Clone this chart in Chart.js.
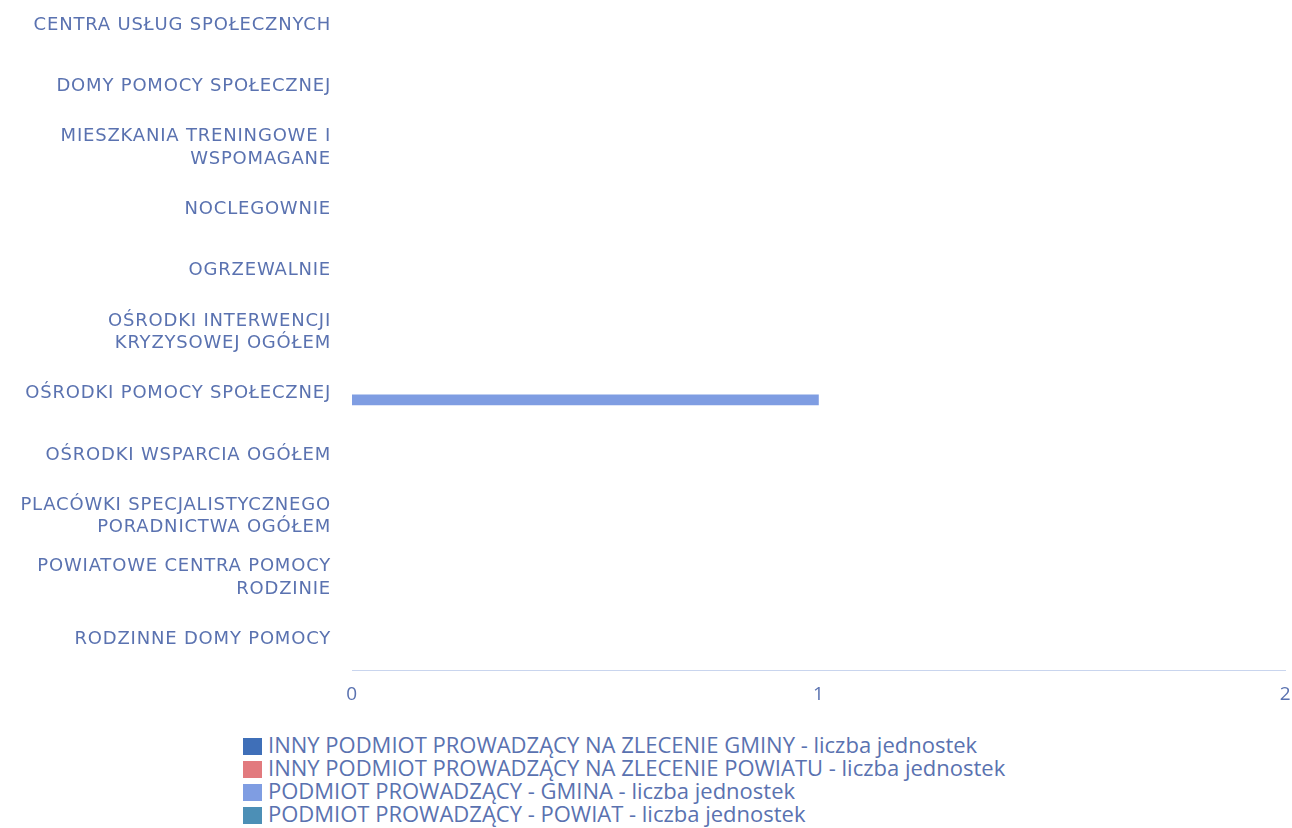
<!DOCTYPE html>
<html>
<head>
<meta charset="utf-8">
<script src="https://cdn.jsdelivr.net/npm/chart.js@4"></script>
<style>
  html, body { margin: 0; padding: 0; background: #fff; overflow: hidden; }
  #wrap { position: absolute; left: 0; top: -38px; width: 1304px; height: 757px; }
  #legend { position: absolute; left: 243px; top: 733px; font-family: "Open Sans", sans-serif; font-size: 22px; color: #5a72b0; }
  #legend div { height: 23px; line-height: 23px; white-space: nowrap; }
  #legend span { display: inline-block; width: 19px; height: 17px; vertical-align: -2px; margin-right: 6px; }
</style>
</head>
<body>
<div id="wrap"><canvas id="canvas"></canvas></div>
<div id="legend"></div>
<script>
var categories = [
  "CENTRA USŁUG SPOŁECZNYCH",
  "DOMY POMOCY SPOŁECZNEJ",
  ["MIESZKANIA TRENINGOWE I", "WSPOMAGANE"],
  "NOCLEGOWNIE",
  "OGRZEWALNIE",
  ["OŚRODKI INTERWENCJI", "KRYZYSOWEJ OGÓŁEM"],
  "OŚRODKI POMOCY SPOŁECZNEJ",
  "OŚRODKI WSPARCIA OGÓŁEM",
  ["PLACÓWKI SPECJALISTYCZNEGO", "PORADNICTWA OGÓŁEM"],
  ["POWIATOWE CENTRA POMOCY", "RODZINIE"],
  "RODZINNE DOMY POMOCY"
];

var seriesNames = [
  "INNY PODMIOT PROWADZĄCY NA ZLECENIE GMINY - liczba jednostek",
  "INNY PODMIOT PROWADZĄCY NA ZLECENIE POWIATU - liczba jednostek",
  "PODMIOT PROWADZĄCY - GMINA - liczba jednostek",
  "PODMIOT PROWADZĄCY - POWIAT - liczba jednostek"
];

var innyGmina  = [0, 0, 0, 0, 0, 0, 0, 0, 0, 0, 0];
var innyPowiat = [0, 0, 0, 0, 0, 0, 0, 0, 0, 0, 0];
var gmina      = [0, 0, 0, 0, 0, 0, 1, 0, 0, 0, 0];
var powiat     = [0, 0, 0, 0, 0, 0, 0, 0, 0, 0, 0];

var xTicks = [0, 1, 2];

var seriesColors = ["#3f6fb8", "#e27a7e", "#7f9de2", "#4c8fb6"];
var textColor = "#5a72b0";

var barChartData = {
  labels: categories,
  datasets: [innyGmina, innyPowiat, gmina, powiat].map(function (d, i) {
    return {
      label: seriesNames[i],
      data: d,
      backgroundColor: seriesColors[i],
      borderWidth: 0,
      categoryPercentage: 0.8,
      barPercentage: 0.88
    };
  })
};

// wider letter spacing for the category labels
var spacingPlugin = {
  id: "spacing",
  beforeDraw: function (chart) { chart.ctx.letterSpacing = "0.8px"; }
};

var ctx = document.getElementById("canvas").getContext("2d");
var myBar = new Chart(ctx, {
  type: "bar",
  data: barChartData,
  plugins: [spacingPlugin],
  options: {
    indexAxis: "y",
    responsive: true,
    maintainAspectRatio: false,
    animation: false,
    layout: { padding: { top: 0, right: 0, bottom: 0, left: 0 } },
    plugins: {
      legend: { display: false },
      tooltip: { enabled: false }
    },
    scales: {
      x: {
        min: xTicks[0],
        max: xTicks[xTicks.length - 1],
        afterBuildTicks: function (scale) {
          scale.ticks = xTicks.map(function (v) { return { value: v }; });
        },
        grid: { display: false, drawTicks: false },
        border: { display: true, color: "#c9d5ee", width: 1 },
        ticks: {
          color: textColor,
          padding: 13,
          font: { family: "Open Sans", size: 19 }
        }
      },
      y: {
        afterFit: function (scale) { scale.width = 352; },
        grid: { display: false, drawTicks: false },
        border: { display: false },
        ticks: {
          color: textColor,
          padding: 21,
          font: { family: "DejaVu Sans", size: 18, lineHeight: 1.25 },
          autoSkip: false
        }
      }
    }
  }
});

// legend below the chart, one entry per line
var legendEl = document.getElementById("legend");
myBar.data.datasets.forEach(function (ds) {
  var row = document.createElement("div");
  var box = document.createElement("span");
  box.style.background = ds.backgroundColor;
  row.appendChild(box);
  row.appendChild(document.createTextNode(ds.label));
  legendEl.appendChild(row);
});
</script>
</body>
</html>
